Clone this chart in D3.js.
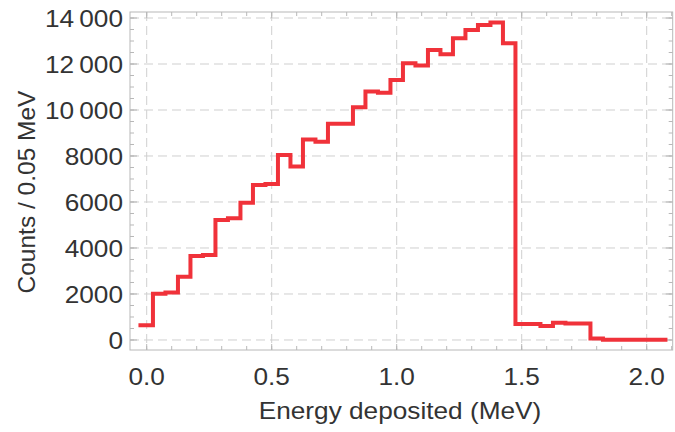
<!DOCTYPE html>
<html>
<head>
<meta charset="utf-8">
<script src="https://cdn.jsdelivr.net/npm/d3@7"></script>
<style>
  body { margin: 0; background: #fff; }
  text { font-family: "Liberation Sans", Arial, sans-serif; fill: #333; }
</style>
</head>
<body>
<div id="chart"></div>
<script>
var w = 675;
var h = 432;

// bin centres (MeV), 0.05 MeV wide
var energies = [0.00, 0.05, 0.10, 0.15, 0.20, 0.25, 0.30, 0.35, 0.40, 0.45,
  0.50, 0.55, 0.60, 0.65, 0.70, 0.75, 0.80, 0.85, 0.90, 0.95,
  1.00, 1.05, 1.10, 1.15, 1.20, 1.25, 1.30, 1.35, 1.40, 1.45,
  1.50, 1.55, 1.60, 1.65, 1.70, 1.75, 1.80, 1.85, 1.90, 1.95,
  2.00, 2.05];
var counts = [640, 2010, 2070, 2750, 3650, 3700, 5220, 5290, 5970, 6740,
  6780, 8040, 7540, 8720, 8620, 9400, 9400, 10120, 10800, 10750,
  11300, 12030, 11930, 12610, 12420, 13120, 13480, 13700, 13800, 12900,
  700, 700, 610, 750, 720, 720, 60, 10, 10, 10,
  10, 10];
var binWidth = 0.05;

var xTicks = [0, 0.5, 1.0, 1.5, 2.0];
var yTicks = [0, 2000, 4000, 6000, 8000, 10000, 12000, 14000];

var margin = { top: 12, right: 2.3, bottom: 82, left: 130 };
var iw = w - margin.left - margin.right;
var ih = h - margin.top - margin.bottom;

var svg = d3.select("#chart").append("svg")
  .attr("width", w)
  .attr("height", h);

var g = svg.append("g")
  .attr("transform", "translate(" + margin.left + "," + margin.top + ")");

var x = d3.scaleLinear().domain([-0.0668, 2.104]).range([0, iw]);
var y = d3.scaleLinear().domain([-435, 14261]).range([ih, 0]);

// dashed grid
g.selectAll(".gx").data(xTicks).enter().append("line")
  .attr("x1", d => x(d)).attr("x2", d => x(d))
  .attr("y1", 0).attr("y2", ih)
  .attr("stroke", "#cfcfcf").attr("stroke-width", 1)
  .attr("stroke-dasharray", "9,5");
g.selectAll(".gy").data(yTicks).enter().append("line")
  .attr("x1", 0).attr("x2", iw)
  .attr("y1", d => y(d)).attr("y2", d => y(d))
  .attr("stroke", "#cfcfcf").attr("stroke-width", 1)
  .attr("stroke-dasharray", "9,5");

// frame ticks, pointing inward on all four sides
var xMinor = d3.range(0, 2.11, 0.1);
var yMinor = d3.range(0, 14001, 500);
var tickCol = "#b8b8b8";

function sideTicks(sel, vals, scale, orient, len) {
  sel.selectAll(null).data(vals).enter().append("line")
    .attr("stroke", tickCol).attr("stroke-width", 1)
    .attr("x1", d => orient == "left" ? 0 : orient == "right" ? iw : scale(d))
    .attr("x2", d => orient == "left" ? len : orient == "right" ? iw - len : scale(d))
    .attr("y1", d => orient == "top" ? 0 : orient == "bottom" ? ih : scale(d))
    .attr("y2", d => orient == "top" ? len : orient == "bottom" ? ih - len : scale(d));
}
sideTicks(g, xMinor, x, "bottom", 4);
sideTicks(g, xMinor, x, "top", 4);
sideTicks(g, xTicks, x, "bottom", 6);
sideTicks(g, xTicks, x, "top", 6);
sideTicks(g, yMinor, y, "left", 4);
sideTicks(g, yMinor, y, "right", 4);
sideTicks(g, yTicks, y, "left", 7);
sideTicks(g, yTicks, y, "right", 7);

g.append("rect")
  .attr("x", 0).attr("y", 0).attr("width", iw).attr("height", ih)
  .attr("fill", "none").attr("stroke", tickCol).attr("stroke-width", 1);

// tick labels (a touch wider than the plain font, as in the picture)
var stretch = 1.07;
var yFmt = d => d >= 10000 ? d3.format(",")(d).replace(",", "\u2009") : String(d);
g.selectAll(".yl").data(yTicks).enter().append("text")
  .attr("transform", d => "translate(-7," + y(d) + ") scale(" + stretch + ",1)")
  .attr("dy", "0.35em")
  .attr("text-anchor", "end")
  .attr("font-size", 24.5)
  .text(yFmt);
g.selectAll(".xl").data(xTicks).enter().append("text")
  .attr("transform", d => "translate(" + x(d) + "," + (ih + 35) + ") scale(" + stretch + ",1)")
  .attr("text-anchor", "middle")
  .attr("font-size", 24.5)
  .text(d => d3.format(".1f")(d));

// axis titles
svg.append("text")
  .attr("transform", "translate(400,419) scale(" + stretch + ",1)")
  .attr("text-anchor", "middle")
  .attr("font-size", 24.5)
  .text("Energy deposited (MeV)");
svg.append("text")
  .attr("transform", "translate(35,192) rotate(-90)")
  .attr("text-anchor", "middle")
  .attr("font-size", 24.5)
  .text("Counts / 0.05 MeV");

// histogram as a step line over bin edges
var pts = energies.map((e, i) => [e - binWidth / 2, counts[i]]);
pts.push([energies[energies.length - 1] + binWidth / 2, counts[counts.length - 1]]);

var line = d3.line()
  .x(d => x(d[0]))
  .y(d => y(d[1]))
  .curve(d3.curveStepAfter);

g.append("path")
  .datum(pts)
  .attr("d", line)
  .attr("fill", "none")
  .attr("stroke", "#f0323a")
  .attr("stroke-width", 4)
  .attr("stroke-linecap", "square")
  .attr("stroke-linejoin", "miter");
</script>
</body>
</html>
